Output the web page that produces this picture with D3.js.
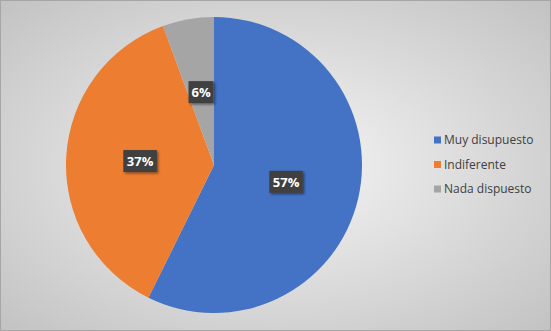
<!DOCTYPE html>
<html>
<head>
<meta charset="utf-8">
<script src="https://cdn.jsdelivr.net/npm/d3@7"></script>
<style>
  html, body { margin: 0; padding: 0; background: #fff; }
  svg { display: block; }
  text { font-family: "Open Sans", "Noto Sans", sans-serif; }
</style>
</head>
<body>
<svg id="chart" width="551" height="331"></svg>
<script>
// Pie chart data (shares; labels show rounded %)
const categories = ['Muy disupuesto', 'Indiferente', 'Nada dispuesto'];
const values = [57.3, 37.1, 5.6];
const colors = ['#4472C4', '#ED7D31', '#A5A5A5'];

const W = 551, H = 331;
const svg = d3.select('#chart');
const defs = svg.append('defs');

// background: soft radial gray gradient
const bg = defs.append('radialGradient').attr('id', 'bg')
  .attr('cx', '50%').attr('cy', '50%').attr('r', '75%');
bg.append('stop').attr('offset', '0%').attr('stop-color', '#f6f6f6');
bg.append('stop').attr('offset', '100%').attr('stop-color', '#bfbfbf');

const shadow = defs.append('filter').attr('id', 'shadow')
  .attr('x', '-30%').attr('y', '-30%').attr('width', '170%').attr('height', '170%');
shadow.append('feDropShadow').attr('dx', 1.5).attr('dy', 1.5)
  .attr('stdDeviation', 1.2).attr('flood-color', '#000').attr('flood-opacity', 0.45);

svg.append('rect').attr('width', W).attr('height', H).attr('fill', 'url(#bg)');
svg.append('rect').attr('x', 0.5).attr('y', 0.5).attr('width', W - 1).attr('height', H - 1)
  .attr('fill', 'none').attr('stroke', '#a6a6a6');

const cx = 214, cy = 165, R = 148;
const pie = d3.pie().sort(null).value(d => d)(values);
const arc = d3.arc().innerRadius(0).outerRadius(R);
const labelArc = d3.arc().innerRadius(R * 0.5).outerRadius(R * 0.5);

const g = svg.append('g').attr('transform', `translate(${cx},${cy})`);
g.selectAll('path.slice')
  .data(pie)
  .join('path')
    .attr('class', 'slice')
    .attr('d', arc)
    .attr('fill', (d, i) => colors[i]);

// data labels
const total = d3.sum(values);
const labels = g.selectAll('g.lbl')
  .data(pie)
  .join('g')
    .attr('class', 'lbl')
    .attr('transform', d => `translate(${labelArc.centroid(d)})`);

labels.each(function (d) {
  const sel = d3.select(this);
  const txt = Math.round(d.data / total * 100) + '%';
  const w = txt.length * 8.5 + 8, h = 22;
  sel.append('rect')
    .attr('x', -w / 2).attr('y', -h / 2)
    .attr('width', w).attr('height', h)
    .attr('fill', '#404040')
    .attr('filter', 'url(#shadow)');
  sel.append('text')
    .attr('text-anchor', 'middle')
    .attr('dy', '0.36em')
    .attr('fill', '#fff')
    .attr('font-size', 13)
    .attr('font-weight', 'bold')
    .text(txt);
});

// legend
const legend = svg.append('g').attr('transform', 'translate(434,140)');
const items = legend.selectAll('g')
  .data(categories)
  .join('g')
    .attr('transform', (d, i) => `translate(0,${i * 24.5})`);
items.append('rect')
  .attr('x', 0).attr('y', -3.5).attr('width', 7).attr('height', 7)
  .attr('fill', (d, i) => colors[i]);
items.append('text')
  .attr('x', 10).attr('dy', '0.35em')
  .attr('font-size', 12)
  .attr('fill', '#404040')
  .text(d => d);
</script>
</body>
</html>
